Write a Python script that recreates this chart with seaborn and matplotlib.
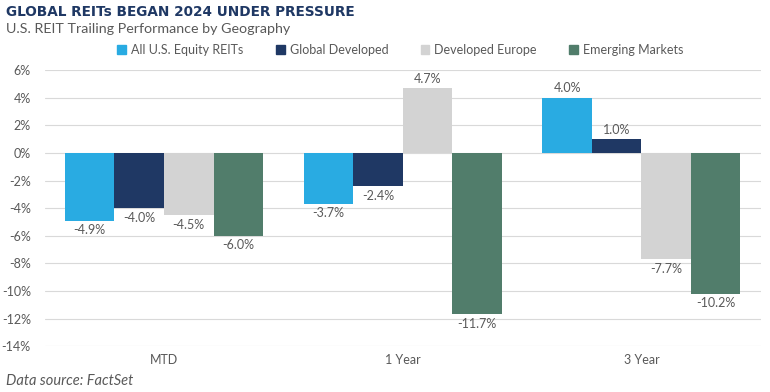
"""
Global REITs trailing performance by geography - grouped bar chart
"""

# =============== IMPORTS ===============
import pandas as pd
import numpy as np
import matplotlib.pyplot as plt
import seaborn as sns
from matplotlib.ticker import FuncFormatter


# =============== DATA ===============
periods = ["MTD", "1 Year", "3 Year"]
series = ["All U.S. Equity REITs", "Global Developed", "Developed Europe", "Emerging Markets"]
us_equity = [-4.9, -3.7, 4.0]
global_dev = [-4.0, -2.4, 1.0]
dev_europe = [-4.5, 4.7, -7.7]
emerging = [-6.0, -11.7, -10.2]
y_ticks = list(range(-14, 7, 2))

colors = ["#29ABE2", "#1F3864", "#D3D3D3", "#517D6B"]
text_grey = "#595959"

df = pd.DataFrame({
    "period": periods * 4,
    "series": np.repeat(series, 3),
    "value": us_equity + global_dev + dev_europe + emerging,
})


# =============== PLOT ===============
sns.set_theme(style="white")
plt.rcParams["font.family"] = ["Lato", "DejaVu Sans"]

fig = plt.figure(figsize=(7.7, 3.92), dpi=100)
ax = fig.add_axes([0.058, 0.117, 0.930, 0.704])

sns.barplot(data=df, x="period", y="value", hue="series", order=periods,
            hue_order=series, palette=colors, width=0.83, saturation=1,
            linewidth=0, ax=ax, legend=False)

ax.set_ylim(-14, 6)
ax.set_xlim(-0.5, 2.5)
ax.set_yticks(y_ticks)
ax.yaxis.set_major_formatter(FuncFormatter(lambda v, _: f"{v:.0f}%"))
ax.grid(axis="y", color="#D9D9D9", linewidth=0.8)
ax.set_axisbelow(True)
for s in ax.spines.values():
    s.set_visible(False)
ax.set_xlabel("")
ax.set_ylabel("")
ax.tick_params(axis="both", length=0, labelsize=9, colors=text_grey, pad=6)
ax.tick_params(axis="y", pad=10)

# value labels
for cont in ax.containers:
    for bar in cont:
        h = bar.get_height()
        x = bar.get_x() + bar.get_width() / 2
        va = "bottom" if h >= 0 else "top"
        off = 0.25 if h >= 0 else -0.25
        ax.text(x, h + off, f"{h:.1f}%", ha="center", va=va, fontsize=9, color=text_grey)

# legend
handles = [plt.Rectangle((0, 0), 1, 1, color=c) for c in colors]
fig.legend(handles, series, loc="center", bbox_to_anchor=(0.52, 0.872), ncol=4,
           frameon=False, fontsize=9, handlelength=0.7, handleheight=0.7,
           columnspacing=2.6, handletextpad=0.4, labelcolor=text_grey)

# titles
fig.text(0.008, 0.97, "GLOBAL REITs BEGAN 2024 UNDER PRESSURE", fontsize=9.8,
         fontweight="bold", color="#1F3864", va="center", family="DejaVu Sans")
fig.text(0.008, 0.925, "U.S. REIT Trailing Performance by Geography", fontsize=10.3,
         color=text_grey, va="center")
fig.text(0.008, 0.028, "Data source: FactSet", fontsize=10.5, style="italic",
         color=text_grey, va="center")

fig.savefig("out.png", dpi=100)
plt.close(fig)
